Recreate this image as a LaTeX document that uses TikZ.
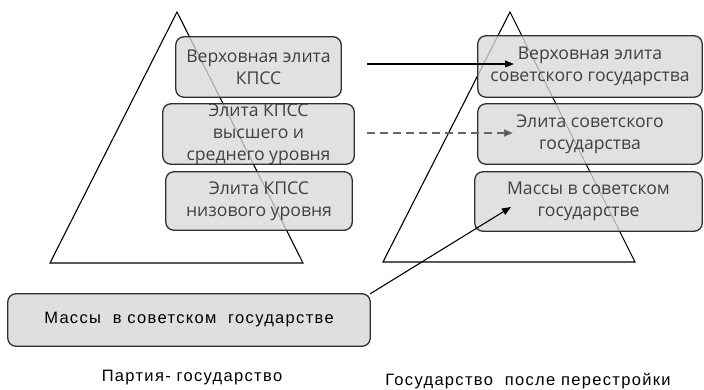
\documentclass[tikz,border=0pt]{standalone}
\usepackage{fontspec}
\setmainfont{Open Sans}
\newfontfamily\arialf[LetterSpace=8]{Liberation Sans}
\usetikzlibrary{arrows.meta}
\definecolor{boxfill}{HTML}{D9D9D9}
\definecolor{boxtext}{HTML}{404040}
\definecolor{boxline}{HTML}{303030}
\tikzset{
  boxshape/.style={fill=boxfill, fill opacity=0.78, draw=none, rounded corners=8pt, inner sep=0pt},
  boxborder/.style={draw=boxline, line width=1.3pt, rounded corners=8pt},
  boxlabel/.style={text=boxtext, font=\fontsize{17.6}{22}\selectfont, align=center, inner sep=0pt},
  tri/.style={draw=black, line width=1.1pt, line join=miter},
  caption/.style={font=\arialf\fontsize{16.5}{18}\selectfont, text=black, inner sep=0pt},
  arr/.style={-{Triangle[length=9pt,width=7pt]}, line width=1.1pt},
}
\begin{document}
\begin{tikzpicture}[x=1pt,y=1pt]
\useasboundingbox (0,0) rectangle (704,389);
\fill[white] (0,0) rectangle (704,389);
% triangles
\draw[tri] (177,377) -- (50,126) -- (303,126) -- cycle;
\draw[tri] (510,377) -- (383,127) -- (635,127) -- cycle;
% box shapes
\node[boxshape, minimum width=165pt, minimum height=60pt] (L1) at (258.5,322) {};
\node[boxshape, minimum width=191pt, minimum height=60pt] (L2) at (258.5,255) {};
\node[boxshape, minimum width=186pt, minimum height=58pt] (L3) at (259,188) {};
\node[boxshape, minimum width=224pt, minimum height=61pt] (R1) at (590,322.5) {};
\node[boxshape, minimum width=224pt, minimum height=60pt] (R2) at (590,255) {};
\node[boxshape, minimum width=227pt, minimum height=59pt] (R3) at (588.5,187.5) {};
\node[boxshape, minimum width=362pt, minimum height=52pt, fill opacity=1, fill=boxfill!85] (B) at (189,69) {};
% box texts
\node[boxlabel] at (L1) {Верховная элита\\КПСС};
\node[boxlabel] at (L2) {Элита КПСС\\высшего и\\среднего уровня};
\node[boxlabel] at (L3) {Элита КПСС\\низового уровня};
\node[boxlabel] at (R1) {Верховная элита\\советского государства};
\node[boxlabel] at (R2) {Элита советского\\государства};
\node[boxlabel] at (R3) {Массы в советском\\государстве};
\node[caption] at (B) {Массы\ \ в советском\ \ государстве};
% borders
\foreach \n in {L1,L2,L3,R1,R2,R3,B}
  \draw[boxborder] (\n.south west) rectangle (\n.north east);
% arrows
\coordinate (s1) at (367,325);
\coordinate (e1) at (514,325);
\coordinate (s2) at (367,256);
\coordinate (e2) at (513,256);
\coordinate (e3) at (511,182);
\draw[arr] (s1) -- (e1);
\draw[arr, draw=black!60, dash pattern=on 8pt off 5pt, line width=1.8pt, -{Triangle[length=9pt,width=7pt,fill=black!80]}] (s2) -- (e2);
\draw[arr] (B.north east) -- (e3);
% captions
\node[caption] (c1) at (192,11) {Партия- государство};
\node[caption] (c2) at (528,8) {Государство\ \ после перестройки};
\end{tikzpicture}
\end{document}
